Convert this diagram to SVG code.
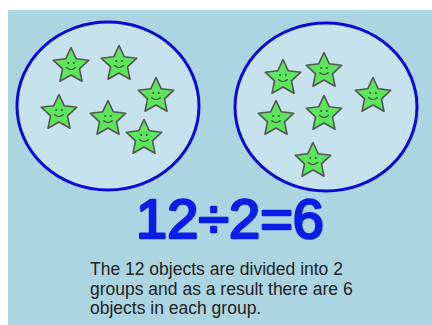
<svg xmlns="http://www.w3.org/2000/svg" width="432" height="325" viewBox="0 0 432 325">
<style>
.grp{fill:#c6e3ed;stroke:#0a0ad6;stroke-width:3}
.star{fill:#5ce65c;stroke:#555;stroke-width:1.6;stroke-linejoin:round}
.eye{fill:#444}
.smile{fill:none;stroke:#444;stroke-width:1.1;stroke-linecap:round}
.eq{font-family:"Liberation Sans",Arial,sans-serif;font-size:56px;fill:#0a1ee6;stroke:#0a1ee6;stroke-width:2.6;stroke-linejoin:round}
.cap{font-family:"Liberation Sans",Arial,sans-serif;font-size:17.5px;fill:#222}
</style>
<defs>
<g id="s">
<path class="star" d="M0,-18.5 L5.3,-7.2 L17.8,-5.8 L8.5,2.8 L11,15.2 L0,9 L-11,15.2 L-8.5,2.8 L-17.8,-5.8 L-5.3,-7.2 Z"/>
<circle class="eye" cx="-2.8" cy="-3" r="1"/>
<circle class="eye" cx="2.8" cy="-3" r="1"/>
<path class="smile" d="M-4.5,1.5 Q0,5.5 4.5,1.5"/>
</g>
</defs>
<rect x="0" y="0" width="432" height="325" fill="#fff"/>
<rect x="8" y="10" width="424" height="315" fill="#acd5e2"/>
<g id="group1">
<ellipse class="grp" cx="108" cy="106" rx="91" ry="84"/>
<use href="#s" x="71" y="66"/>
<use href="#s" x="119" y="64"/>
<use href="#s" x="156" y="96"/>
<use href="#s" x="59" y="113"/>
<use href="#s" x="108" y="119"/>
<use href="#s" x="144" y="138"/>
</g>
<g id="group2">
<ellipse class="grp" cx="326" cy="107" rx="91" ry="84"/>
<use href="#s" x="283" y="78"/>
<use href="#s" x="324" y="71"/>
<use href="#s" x="373" y="96"/>
<use href="#s" x="276" y="119"/>
<use href="#s" x="324" y="114"/>
<use href="#s" x="313" y="161"/>
</g>
<g id="equation">
<text class="eq" x="230" y="238" text-anchor="middle">12÷2=6</text>
</g>
<g id="caption">
<text class="cap" x="90" y="275">The 12 objects are divided into 2</text>
<text class="cap" x="90" y="295">groups and as a result there are 6</text>
<text class="cap" x="90" y="314">objects in each group.</text>
</g>
</svg>
